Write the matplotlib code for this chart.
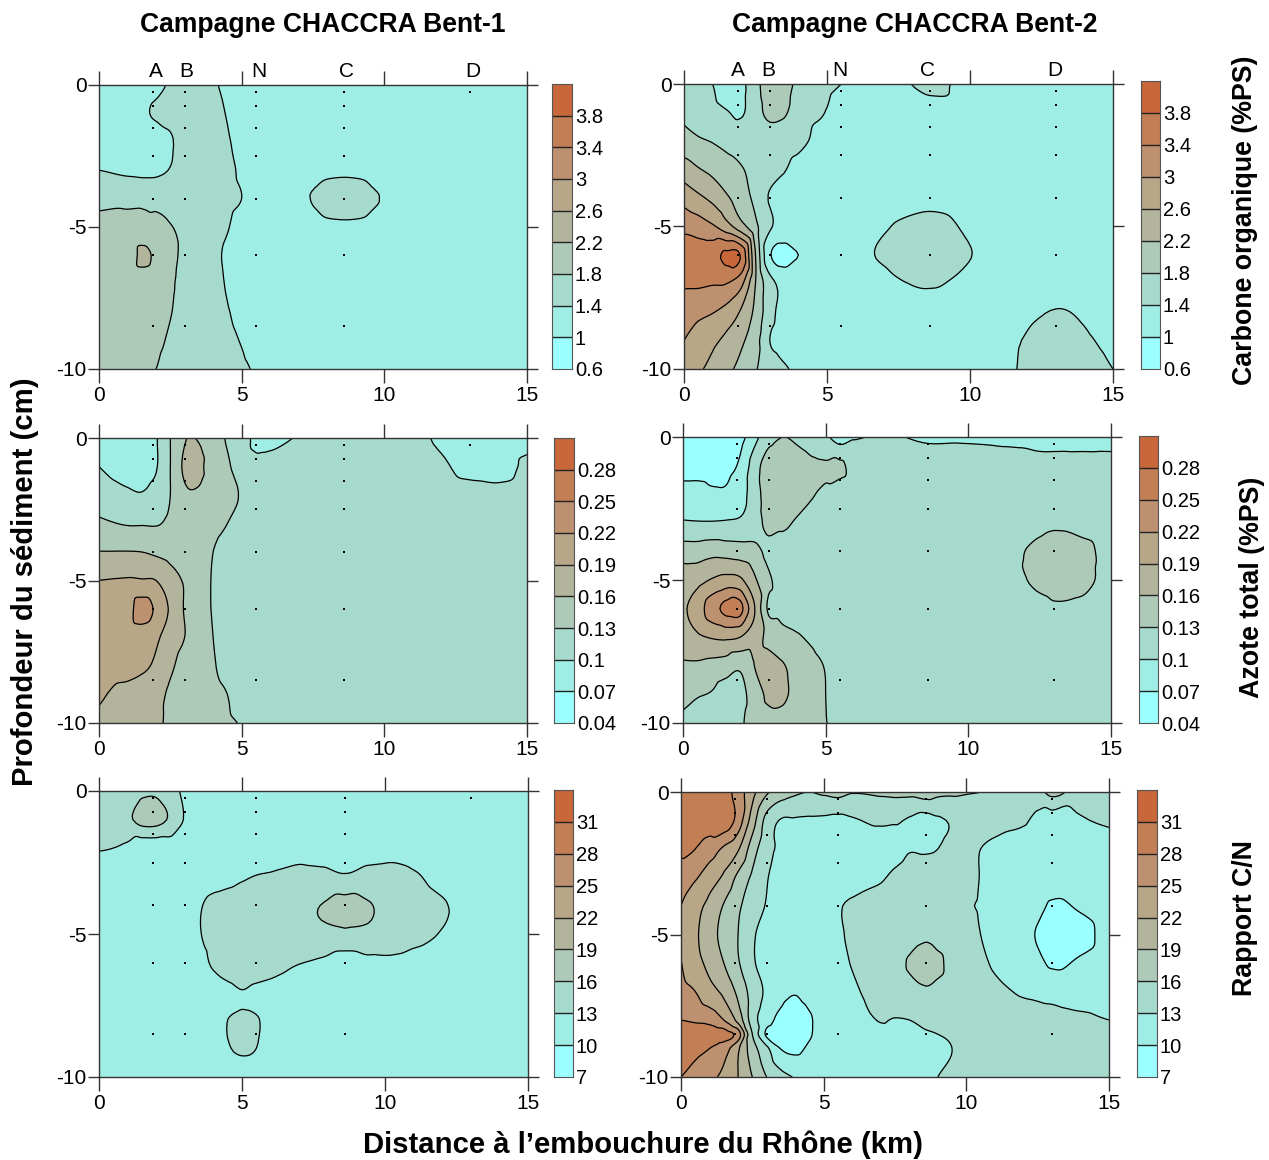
"""Profils de carbone, azote et C/N dans le sédiment (campagnes CHACCRA)."""

import matplotlib

matplotlib.use("Agg")
import matplotlib.pyplot as plt
import matplotlib.tri as mtri
import numpy as np
from matplotlib.colors import ListedColormap

plt.rcParams["font.family"] = ["Liberation Sans", "DejaVu Sans"]
plt.rcParams["axes.unicode_minus"] = False

W, H = 1269, 1160

COLORS = ["#9BFFFF", "#9FEEE6", "#A6DACD", "#ADC9B8", "#B2B49C",
          "#B8A688", "#BD9070", "#C27E55", "#C8683A"]

LEVELS_C = [0.6, 1.0, 1.4, 1.8, 2.2, 2.6, 3.0, 3.4, 3.8, 4.2]
LEVELS_N = [0.04, 0.07, 0.10, 0.13, 0.16, 0.19, 0.22, 0.25, 0.28, 0.31]
LEVELS_CN = [7, 10, 13, 16, 19, 22, 25, 28, 31, 34]
LABELS_C = ["0.6", "1", "1.4", "1.8", "2.2", "2.6", "3", "3.4", "3.8"]
LABELS_N = ["0.04", "0.07", "0.1", "0.13", "0.16", "0.19", "0.22", "0.25", "0.28"]
LABELS_CN = ["7", "10", "13", "16", "19", "22", "25", "28", "31"]

STATION_NAMES = ["A", "B", "N", "C", "D"]
STATION_X = [1.9, 3, 5.5, 8.6, 13]
NAMES_X_1 = [2.0, 3.05, 5.61, 8.66, 13.1]
NAMES_X_2 = [1.89, 2.94, 5.45, 8.53, 12.97]
DEPTHS = [-0.25, -0.75, -1.5, -2.5, -4, -6, -8.5]

ROWS = [0, -1, -2, -3, -4, -5, -6, -7, -8, -9, -10]

# Carbone organique, Bent-1
C1_X = [0, 1, 1.6, 2, 2.5, 3, 4, 4.5, 5, 5.5, 6.5, 7.5, 8.6, 9.7, 11, 15]
C1_Y = ROWS
C1_Z = [
    [1.2, 1.2, 1.25, 1.3, 1.45, 1.6, 1.45, 1.3, 1.2, 1.2, 1.2, 1.2, 1.2, 1.2, 1.2, 1.2],
    [1.2, 1.25, 1.36, 1.45, 1.5, 1.6, 1.5, 1.38, 1.25, 1.2, 1.2, 1.2, 1.2, 1.2, 1.2, 1.2],
    [1.1, 1.1, 1.15, 1.2, 1.36, 1.55, 1.55, 1.43, 1.3, 1.2, 1.2, 1.2, 1.2, 1.2, 1.2, 1.2],
    [1.4, 1.32, 1.3, 1.32, 1.42, 1.6, 1.6, 1.5, 1.33, 1.2, 1.2, 1.28, 1.33, 1.28, 1.2, 1.2],
    [1.7, 1.72, 1.72, 1.7, 1.65, 1.6, 1.55, 1.5, 1.4, 1.25, 1.2, 1.42, 1.6, 1.42, 1.2, 1.2],
    [1.9, 1.9, 1.9, 1.9, 1.82, 1.7, 1.5, 1.42, 1.25, 1.2, 1.2, 1.28, 1.33, 1.28, 1.2, 1.2],
    [1.95, 2.0, 2.3, 2.1, 1.9, 1.72, 1.47, 1.35, 1.22, 1.2, 1.2, 1.2, 1.2, 1.2, 1.2, 1.2],
    [1.95, 1.95, 1.95, 1.9, 1.84, 1.7, 1.5, 1.37, 1.22, 1.2, 1.2, 1.2, 1.2, 1.2, 1.2, 1.2],
    [1.95, 1.92, 1.88, 1.85, 1.81, 1.7, 1.5, 1.42, 1.3, 1.2, 1.2, 1.2, 1.2, 1.2, 1.2, 1.2],
    [1.9, 1.9, 1.86, 1.84, 1.77, 1.68, 1.52, 1.47, 1.38, 1.25, 1.2, 1.2, 1.2, 1.2, 1.2, 1.2],
    [1.9, 1.85, 1.82, 1.8, 1.72, 1.65, 1.55, 1.5, 1.46, 1.36, 1.2, 1.2, 1.2, 1.2, 1.2, 1.2],
]

# Carbone organique, Bent-2
C2_X = [0, 0.5, 1, 1.5, 2, 2.5, 3, 3.5, 4, 5, 5.5, 6.5, 7.5, 8.6, 10, 11.5, 13, 14, 15]
C2_Y = ROWS
C2_Z = [
    [1.6, 1.5, 1.4, 1.25, 1.3, 1.68, 2.0, 2.0, 1.68, 1.5, 1.4, 1.2, 1.3, 1.55, 1.2, 1.2, 1.2, 1.2, 1.2],
    [1.72, 1.6, 1.5, 1.42, 1.35, 1.65, 1.9, 1.85, 1.6, 1.38, 1.2, 1.2, 1.2, 1.2, 1.2, 1.2, 1.2, 1.2, 1.2],
    [1.95, 1.85, 1.78, 1.7, 1.65, 1.6, 1.6, 1.55, 1.48, 1.25, 1.2, 1.2, 1.2, 1.2, 1.2, 1.2, 1.2, 1.2, 1.2],
    [2.4, 2.23, 2.1, 1.95, 1.83, 1.68, 1.55, 1.42, 1.3, 1.2, 1.2, 1.2, 1.2, 1.2, 1.2, 1.2, 1.2, 1.2, 1.2],
    [2.85, 2.68, 2.5, 2.25, 2.0, 1.7, 1.37, 1.25, 1.2, 1.2, 1.2, 1.2, 1.2, 1.27, 1.2, 1.2, 1.2, 1.2, 1.2],
    [3.3, 3.2, 3.05, 2.75, 2.35, 1.9, 1.45, 1.28, 1.2, 1.2, 1.2, 1.25, 1.45, 1.55, 1.33, 1.2, 1.2, 1.2, 1.2],
    [3.55, 3.6, 3.65, 3.88, 3.75, 2.2, 1.05, 0.85, 1.0, 1.2, 1.2, 1.37, 1.55, 1.7, 1.41, 1.2, 1.2, 1.2, 1.2],
    [3.45, 3.45, 3.42, 3.4, 3.1, 2.2, 1.55, 1.28, 1.2, 1.2, 1.2, 1.2, 1.36, 1.44, 1.3, 1.2, 1.2, 1.2, 1.2],
    [3.2, 3.1, 3.02, 2.85, 2.55, 2.1, 1.55, 1.25, 1.2, 1.2, 1.2, 1.2, 1.2, 1.2, 1.2, 1.25, 1.42, 1.35, 1.2],
    [3.0, 2.8, 2.68, 2.5, 2.27, 1.95, 1.4, 1.25, 1.2, 1.2, 1.2, 1.2, 1.2, 1.2, 1.2, 1.36, 1.55, 1.45, 1.3],
    [2.8, 2.65, 2.5, 2.28, 2.1, 1.83, 1.6, 1.45, 1.32, 1.2, 1.2, 1.2, 1.2, 1.2, 1.2, 1.38, 1.6, 1.55, 1.4],
]

# Azote total, Bent-1
N1_X = [0, 1, 1.5, 2, 2.5, 3, 3.5, 4, 4.5, 5, 5.5, 6, 7, 8.6, 11, 12, 13, 14, 15]
N1_Y = ROWS
N1_Z = [
    [.095, .09, .09, .098, .13, .158, .158, .14, .128, .12, .09, .09, .102, .115, .108, .095, .09, .09, .09],
    [.10, .09, .09, .098, .13, .165, .168, .14, .133, .118, .11, .11, .115, .115, .115, .105, .09, .09, .105],
    [.115, .105, .102, .11, .13, .155, .155, .14, .135, .128, .115, .115, .115, .115, .115, .115, .112, .108, .112],
    [.135, .128, .128, .128, .135, .14, .14, .137, .13, .12, .115, .115, .115, .115, .115, .115, .115, .115, .115],
    [.161, .161, .16, .155, .15, .145, .138, .13, .12, .115, .115, .115, .115, .115, .115, .115, .115, .115, .115],
    [.19, .193, .192, .19, .172, .157, .142, .128, .118, .115, .115, .115, .115, .115, .115, .115, .115, .115, .115],
    [.20, .21, .232, .215, .186, .158, .143, .128, .118, .115, .115, .115, .115, .115, .115, .115, .115, .115, .115],
    [.205, .205, .205, .195, .175, .16, .145, .13, .12, .115, .115, .115, .115, .115, .115, .115, .115, .115, .115],
    [.20, .2, .195, .185, .165, .15, .14, .132, .122, .115, .115, .115, .115, .115, .115, .115, .115, .115, .115],
    [.193, .182, .176, .17, .155, .148, .143, .137, .13, .118, .115, .115, .115, .115, .115, .115, .115, .115, .115],
    [.185, .175, .17, .165, .155, .15, .145, .14, .134, .128, .118, .115, .115, .115, .115, .115, .115, .115, .115],
]

# Azote total, Bent-2
N2_X = [0, 0.5, 1, 1.5, 2, 2.5, 3, 3.5, 4, 4.5, 5, 5.5, 6, 7, 8.6, 10, 11.5, 12.5, 13, 14, 15]
N2_Y = ROWS
N2_Z = [
    [.05, .05, .05, .05, .06, .09, .12, .13, .125, .115, .105, .085, .097, .103, .095, .095, .09, .08, .08, .08, .08],
    [.06, .06, .06, .062, .075, .115, .145, .145, .14, .135, .133, .135, .12, .115, .115, .115, .115, .115, .115, .115, .115],
    [.08, .08, .075, .075, .088, .115, .145, .145, .14, .132, .125, .118, .115, .115, .115, .115, .115, .115, .115, .115, .115],
    [.103, .102, .102, .103, .105, .115, .14, .135, .127, .12, .115, .115, .115, .115, .115, .115, .115, .12, .125, .12, .115],
    [.145, .145, .15, .148, .145, .14, .122, .118, .115, .115, .115, .115, .115, .115, .115, .115, .122, .14, .145, .138, .118],
    [.175, .18, .192, .20, .195, .165, .135, .12, .115, .115, .115, .115, .115, .115, .115, .115, .118, .14, .145, .14, .115],
    [.185, .205, .235, .258, .26, .192, .125, .12, .115, .115, .115, .115, .115, .115, .115, .115, .115, .118, .125, .122, .115],
    [.175, .185, .192, .195, .19, .172, .153, .14, .133, .125, .115, .115, .115, .115, .115, .115, .115, .115, .115, .115, .115],
    [.155, .155, .15, .145, .135, .16, .17, .162, .15, .14, .128, .115, .115, .115, .115, .115, .115, .115, .115, .115, .115],
    [.137, .132, .128, .118, .12, .145, .165, .165, .15, .14, .13, .115, .115, .115, .115, .115, .115, .115, .115, .115, .115],
    [.125, .12, .115, .115, .125, .145, .15, .15, .145, .138, .131, .12, .115, .115, .115, .115, .115, .115, .115, .115, .115],
]

# Rapport C/N, Bent-1
R1_X = [0, 1, 1.5, 2, 2.5, 3, 3.5, 4, 4.5, 5, 5.5, 6, 7, 7.85, 8.6, 9.4, 10.3, 11, 12, 13, 15]
R1_Y = [0, -1, -2, -3, -4, -5, -6, -7, -7.5, -8, -9, -10]
R1_Z = [
    [14.5, 15, 15.5, 15.5, 14, 12.5, 11.5, 11.5, 11.5, 11.5, 11.5, 11.5, 11.5, 11.5, 11.5, 11.5, 11.5, 11.5, 11.5, 11.5, 11.5],
    [14.5, 15.5, 17, 17, 15.5, 12.8, 11.5, 11.5, 11.5, 11.5, 11.5, 11.5, 11.5, 11.5, 11.5, 11.5, 11.5, 11.5, 11.5, 11.5, 11.5],
    [13.2, 12.4, 11, 11, 11.5, 11.5, 11.5, 11.5, 11.5, 11.5, 11.5, 11.5, 12.1, 11.8, 11.8, 11.8, 12.1, 11.5, 11.5, 11.5, 11.5],
    [11.3, 11.5, 11.5, 11.5, 11.5, 11.5, 11.5, 11.8, 12.2, 12.7, 13.1, 13.3, 13.8, 13.8, 13.3, 14, 14, 13.5, 11.7, 11.5, 11.5],
    [11.5, 11.5, 11.5, 11.5, 11.5, 11.5, 12.7, 13.8, 14.2, 14.5, 14.8, 15, 15.5, 16.1, 17, 16.2, 15.2, 15, 13.4, 11.5, 11.5],
    [11.5, 11.5, 11.5, 11.5, 11.5, 11.5, 12.8, 14, 14.3, 14.5, 14.8, 14.8, 14.8, 15.4, 15.5, 15.4, 14.5, 14, 12.8, 11.5, 11.5],
    [11.5, 11.5, 11.5, 11.5, 11.5, 11.5, 12, 13.4, 14, 14.2, 14.2, 14, 13.1, 12.5, 11.5, 12.3, 12.5, 12, 11.5, 11.5, 11.5],
    [11.5, 11.5, 11.5, 11.5, 11.5, 11.5, 11.5, 11.8, 12.5, 12.95, 12.6, 12.2, 11.5, 11.5, 11.5, 11.5, 11.5, 11.5, 11.5, 11.5, 11.5],
    [11.5, 11.5, 11.5, 11.5, 11.5, 11.5, 11.5, 11.5, 12, 12.7, 12.3, 11.5, 11.5, 11.5, 11.5, 11.5, 11.5, 11.5, 11.5, 11.5, 11.5],
    [11.5, 11.5, 11.5, 11.5, 11.5, 11.5, 11.5, 11.5, 13, 14.2, 13.4, 11.5, 11.5, 11.5, 11.5, 11.5, 11.5, 11.5, 11.5, 11.5, 11.5],
    [11.5, 11.5, 11.5, 11.5, 11.5, 11.5, 11.5, 11.5, 12.8, 13.4, 13, 11.5, 11.5, 11.5, 11.5, 11.5, 11.5, 11.5, 11.5, 11.5, 11.5],
    [11.5, 11.5, 11.5, 11.5, 11.5, 11.5, 11.5, 11.5, 11.5, 11.5, 11.5, 11.5, 11.5, 11.5, 11.5, 11.5, 11.5, 11.5, 11.5, 11.5, 11.5],
]

# Rapport C/N, Bent-2
R2_X = [0, 0.5, 1, 1.5, 2, 2.5, 3, 3.5, 4, 4.5, 5, 5.5, 6, 7, 7.5, 8, 8.6, 9, 9.5, 10, 10.5, 11, 12, 12.5, 13, 14, 15]
R2_Y = [0, -1, -2, -3, -4, -5, -6, -7, -8, -8.5, -9, -10]
R2_Z = [
    [30, 30, 30, 29.5, 26.5, 23, 19.5, 17.5, 16.5, 16, 16.5, 17, 16.2, 16.5, 16.7, 16.8, 17.5, 16.8, 16.5, 16.2, 16, 15.5, 15, 15, 17, 14.5, 14.5],
    [29.5, 29.5, 29.5, 30, 26.8, 20.5, 15, 12.8, 12.7, 12.6, 12.5, 12.3, 12.7, 13.5, 13.3, 12.7, 12, 12.6, 13.3, 14, 14, 14, 13.4, 12.2, 11.5, 12.7, 13.5],
    [29, 28, 26.5, 24.5, 22.3, 17.5, 14, 12.5, 11.5, 11.5, 11.5, 11.5, 11.5, 11.5, 12.2, 12.9, 12.8, 13, 13.7, 13.6, 13, 12.4, 11.5, 11.4, 11.3, 11.3, 11.5],
    [26, 25.3, 23.4, 21.5, 18.3, 15.5, 13.2, 12, 11.5, 11.5, 11.5, 11.5, 11.5, 12.7, 13.5, 14, 14, 14, 14, 13.8, 12.9, 11.8, 11.5, 11.4, 11.3, 11.3, 11.5],
    [25, 23, 21.2, 18.8, 16.5, 14.5, 12.8, 11.5, 11.3, 11.3, 11.5, 12.7, 13.5, 14, 14, 14, 14.2, 14, 14, 13.2, 12.8, 11.8, 11, 10.6, 9.7, 10.3, 11.3],
    [24.7, 22.5, 20.3, 18, 16, 13.5, 11.7, 11.3, 11.3, 11.4, 11.5, 12.6, 13.4, 14, 14, 14.5, 15.4, 14.5, 14, 13.7, 13, 12.3, 10.8, 9.8, 9, 9.2, 11],
    [25.1, 23, 21.2, 19, 16.3, 13.5, 11.6, 11.3, 11.3, 11.5, 11.8, 12.5, 13.1, 14, 14.8, 16.3, 17.5, 16.8, 14.8, 14, 13.4, 12.7, 11, 10.6, 9.6, 10.4, 11.3],
    [26, 25, 23, 21.3, 18.3, 14.8, 12.5, 10.8, 10.2, 11, 11.5, 12, 12.6, 14, 14.3, 14.8, 15.6, 15, 14.5, 14, 13.8, 13.5, 12.7, 12.4, 12.2, 12, 12],
    [28, 27.5, 27, 25, 21, 14.5, 11.2, 9.2, 8.5, 9.7, 11, 11.5, 12, 13.1, 12.9, 13, 13.5, 13.4, 13.7, 14, 14, 14, 14, 13.9, 13.7, 13.4, 13],
    [30, 30, 29.8, 29.3, 26.5, 16, 9.5, 8.2, 8, 9.7, 11.2, 11.5, 11.8, 12.5, 12.5, 12.5, 12.8, 13, 13.3, 14, 14, 14, 14, 14, 14, 14, 14],
    [29.3, 28.8, 28, 26.3, 22.5, 17.3, 13.7, 9.9, 9.3, 10.5, 11.5, 11.5, 11.5, 11.8, 12, 12, 12, 12.2, 13, 14, 14, 14, 14, 14, 14, 14, 14],
    [28, 27, 25.7, 24.3, 22, 19, 16, 14, 12.8, 12, 11.5, 11.5, 11.5, 11.5, 11.8, 12, 12.5, 13, 13.7, 14, 14, 14, 14, 14, 14, 14, 14],
]

# axes en pixels : gauche, haut, droite, bas
PANELS = [
    (C1_X, C1_Y, C1_Z, LEVELS_C, LABELS_C, (99, 85, 527, 369), (552, 84, 572, 369), NAMES_X_1, False),
    (C2_X, C2_Y, C2_Z, LEVELS_C, LABELS_C, (684, 84, 1113, 369), (1141, 81, 1160, 369), NAMES_X_2, True),
    (N1_X, N1_Y, N1_Z, LEVELS_N, LABELS_N, (99, 438, 527, 723), (554, 438, 574, 723), None, False),
    (N2_X, N2_Y, N2_Z, LEVELS_N, LABELS_N, (683, 437, 1111, 723), (1139, 436, 1158, 723), None, True),
    (R1_X, R1_Y, R1_Z, LEVELS_CN, LABELS_CN, (99, 791, 528, 1077), (554, 790, 573, 1077), None, False),
    (R2_X, R2_Y, R2_Z, LEVELS_CN, LABELS_CN, (681, 792, 1109, 1077), (1137, 790, 1157, 1077), None, True),
]


def axes_px(fig, box):
    left, top, right, bottom = box
    return fig.add_axes([left / W, 1 - bottom / H, (right - left) / W, (bottom - top) / H])


def draw_panel(fig, xs, ys, zs, levels, labels, box, cbox, names_x, full_d):
    ax = axes_px(fig, box)
    xx, yy = np.meshgrid(xs, ys)
    z = np.array(zs, dtype=float).ravel()
    tri = mtri.Triangulation(xx.ravel(), yy.ravel())
    interp = mtri.CubicTriInterpolator(tri, z, kind="geom")
    fine_tri, fine_z = mtri.UniformTriRefiner(tri).refine_field(z, triinterpolator=interp, subdiv=3)

    cmap = ListedColormap(COLORS)
    cmap.set_under(COLORS[0])
    cmap.set_over(COLORS[-1])
    ax.tricontourf(fine_tri, fine_z, levels=levels, cmap=cmap, extend="both")
    ax.tricontour(fine_tri, fine_z, levels=levels[1:-1], colors="black", linewidths=0.9)

    # stations de prélèvement
    for sx in STATION_X:
        depths = DEPTHS if (sx != 13 or full_d) else DEPTHS[:1]
        ax.plot([sx] * len(depths), depths, ls="", marker="s", ms=1.7, color="black", mew=0, zorder=5)

    ax.set_xlim(0, 15)
    ax.set_ylim(-10, 0)
    ax.set_xticks([0, 5, 10, 15])
    ax.set_yticks([0, -5, -10])
    ax.tick_params(top=True, right=True, width=1, color="#333333", labelsize=15)
    ax.tick_params(axis="x", length=10, pad=2)
    ax.tick_params(axis="y", length=7.8, pad=1)
    for spine in ax.spines.values():
        spine.set_linewidth(1)
        spine.set_color("#333333")

    if names_x:
        for name, nx in zip(STATION_NAMES, names_x):
            ax.annotate(name, (nx, 0), xytext=(0, 3), textcoords="offset points",
                        ha="center", va="bottom", fontsize=15, annotation_clip=False)

    # barre de couleur
    cax = axes_px(fig, cbox)
    band = np.arange(len(COLORS)).reshape(-1, 1)
    cax.pcolormesh([0, 1], levels, band, cmap=cmap, shading="flat")
    cax.hlines(levels[1:-1], 0, 1, color="#222222", lw=1)
    cax.set_xticks([])
    cax.set_yticks(levels[:-1], labels)
    cax.yaxis.tick_right()
    cax.tick_params(length=0, labelsize=14.5, pad=2)
    cax.set_ylim(levels[0], levels[-1])
    for spine in cax.spines.values():
        spine.set_linewidth(0.8)
        spine.set_color("#555555")


fig = plt.figure(figsize=(W / 100, H / 100), dpi=100)
for panel in PANELS:
    draw_panel(fig, *panel)

fig.text(323 / W, 1 - 25 / H, "Campagne CHACCRA Bent-1", ha="center", va="center",
         fontsize=19.1, fontweight="bold")
fig.text(915 / W, 1 - 25 / H, "Campagne CHACCRA Bent-2", ha="center", va="center",
         fontsize=19.1, fontweight="bold")
fig.text(643 / W, 1 - 1145 / H, "Distance à l’embouchure du Rhône (km)", ha="center", va="center",
         fontsize=21.1, fontweight="bold")
fig.text(25 / W, 1 - 582 / H, "Profondeur du sédiment (cm)", rotation=90, ha="center", va="center",
         fontsize=21.1, fontweight="bold")
fig.text(1245 / W, 1 - 220 / H, "Carbone organique (%PS)", rotation=90, ha="center", va="center",
         fontsize=19.3, fontweight="bold")
fig.text(1252 / W, 1 - 587 / H, "Azote total (%PS)", rotation=90, ha="center", va="center",
         fontsize=19.3, fontweight="bold")
fig.text(1245 / W, 1 - 918 / H, "Rapport C/N", rotation=90, ha="center", va="center",
         fontsize=19.3, fontweight="bold")

fig.savefig("out.png", dpi=100)
